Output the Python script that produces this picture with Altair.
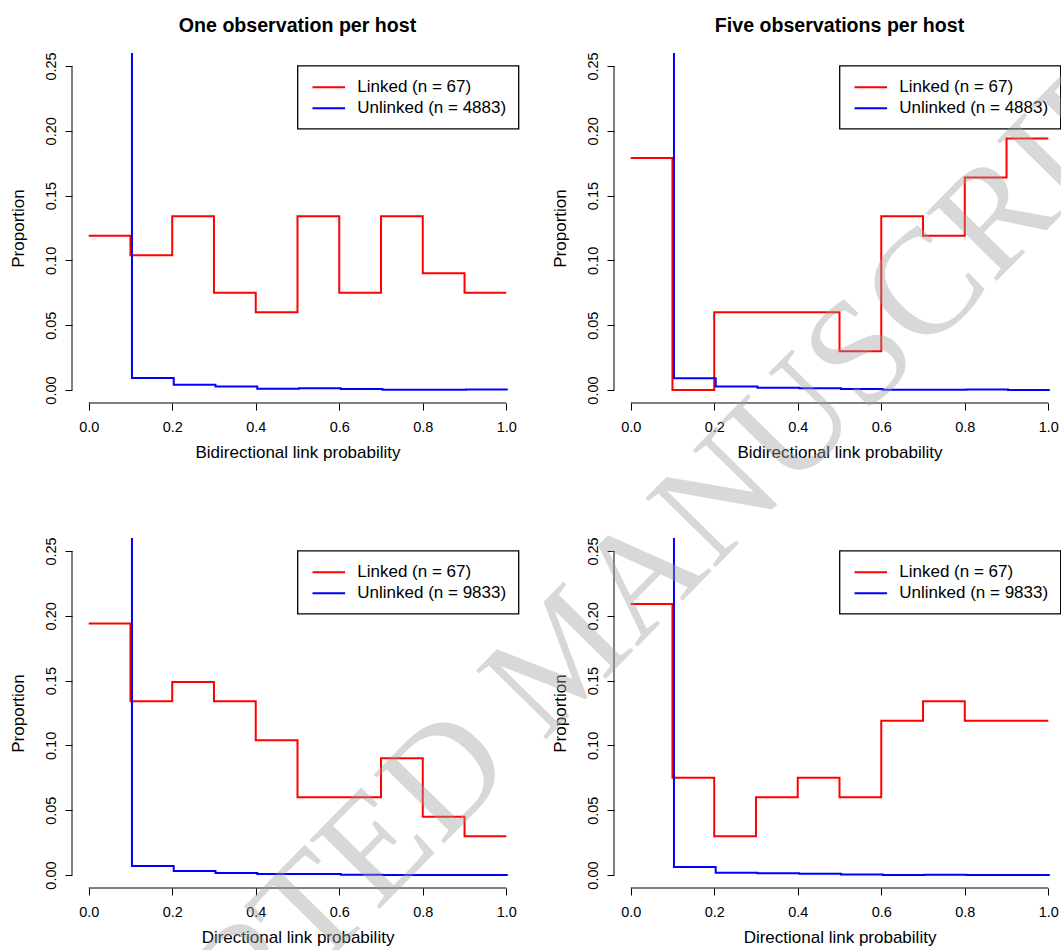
import altair as alt
import pandas as pd

# ---------------- data ----------------
edges = [0.0, 0.1, 0.2, 0.3, 0.4, 0.5, 0.6, 0.7, 0.8, 0.9, 1.0]

linked_one_bi = [0.119, 0.104, 0.134, 0.075, 0.060, 0.134, 0.075, 0.134, 0.090, 0.075]
unlinked_one_bi = [0.978, 0.0092, 0.0041, 0.0028, 0.0010, 0.0013, 0.0008, 0.0003, 0.0003, 0.0005]

linked_five_bi = [0.179, 0.000, 0.060, 0.060, 0.060, 0.030, 0.134, 0.119, 0.164, 0.194]
unlinked_five_bi = [0.983, 0.0090, 0.0028, 0.0018, 0.0013, 0.0008, 0.0003, 0.0003, 0.0005, 0.0001]

linked_one_dir = [0.194, 0.134, 0.149, 0.134, 0.104, 0.060, 0.060, 0.090, 0.045, 0.030]
unlinked_one_dir = [0.986, 0.0069, 0.0031, 0.0015, 0.0008, 0.0008, 0.0003, 0.0001, 0.0001, 0.0001]

linked_five_dir = [0.209, 0.075, 0.030, 0.060, 0.075, 0.060, 0.119, 0.134, 0.119, 0.119]
unlinked_five_dir = [0.989, 0.0062, 0.0018, 0.0013, 0.0010, 0.0005, 0.0001, 0.0003, 0.0001, 0.0001]

n_linked = 67
n_unlinked = [4883, 4883, 9833, 9833]

panel_titles = ["One observation per host", "Five observations per host", "", ""]
x_titles = ["Bidirectional link probability", "Bidirectional link probability",
            "Directional link probability", "Directional link probability"]
x_ticks = [0.0, 0.2, 0.4, 0.6, 0.8, 1.0]
y_ticks = [0.0, 0.05, 0.10, 0.15, 0.20, 0.25]
watermark = "ACCEPTED MANUSCRIPT"

# ---------------- styling ----------------
FONT = "Liberation Sans"
W, H = 451, 350
X_DOMAIN = [-0.04, 1.04]
Y_DOMAIN = [-0.01, 0.26]


def steps(vals, label):
    ys = list(vals) + [vals[-1]]
    return pd.DataFrame({"x": edges, "y": ys, "series": label})


def panel(linked, unlinked, n_unl, xtitle, title, extra=None):
    lab_l = f"Linked (n = {n_linked})"
    lab_u = f"Unlinked (n = {n_unl})"
    df = pd.concat([steps(linked, lab_l), steps(unlinked, lab_u)], ignore_index=True)

    xaxis = alt.Axis(
        values=x_ticks, format=".1f", domain=False, grid=False, ticks=True,
        tickSize=7, tickColor="black", tickWidth=1,
        labelAngle=0, labelAlign="center", labelBaseline="top", labelPadding=10,
        labelFont=FONT, labelFontSize=14.5, labelColor="black",
        labelOverlap=False, labelFlush=False,
        title=xtitle, titleFont=FONT, titleFontSize=17, titleFontWeight="normal",
        titleColor="black", titleAlign="center", titleBaseline="alphabetic",
        titleX=W / 2, titleY=54,
    )
    yaxis = alt.Axis(
        values=y_ticks, format=".2f", domain=False, grid=False, ticks=True,
        tickSize=7, tickColor="black", tickWidth=1,
        labelAngle=270, labelAlign="center", labelBaseline="bottom", labelPadding=7,
        labelFont=FONT, labelFontSize=14.5, labelColor="black",
        labelOverlap=False, labelFlush=False,
        title="Proportion", titleFont=FONT, titleFontSize=17, titleFontWeight="normal",
        titleColor="black", titleAngle=270, titleAlign="center", titleBaseline="alphabetic",
        titleX=-48.3, titleY=H / 2,
    )
    legend = alt.Legend(
        title=None, orient="none", legendX=225.5, legendY=12.7, direction="vertical",
        fillColor="white", strokeColor="black", padding=12,
        symbolType="M-1.918,0L1.918,0", symbolSize=289, symbolStrokeWidth=2,
        symbolOffset=9.8, labelOffset=19.0, rowPadding=3,
        labelFont=FONT, labelFontSize=17, labelColor="black", labelLimit=400,
    )
    xenc = alt.X("x:Q", scale=alt.Scale(domain=X_DOMAIN, nice=False, zero=False), axis=xaxis)
    yenc = alt.Y("y:Q", scale=alt.Scale(domain=Y_DOMAIN, nice=False, zero=False), axis=yaxis)
    color = alt.Color("series:N",
                      scale=alt.Scale(domain=[lab_l, lab_u], range=["#ff0000", "#0000ff"]),
                      legend=legend)

    base = alt.Chart(df)
    red = base.transform_filter(alt.datum.series == lab_l).mark_line(
        interpolate="step-after", strokeWidth=2, clip=True
    ).encode(x=xenc, y=yenc, color=color)
    blue = base.transform_filter(alt.datum.series == lab_u).mark_line(
        interpolate="step-after", strokeWidth=2, clip=True, xOffset=1.5
    ).encode(x="x:Q", y="y:Q", color="series:N")

    one = alt.Chart(pd.DataFrame({"k": [0]}))
    xline = one.mark_rule(color="black", strokeWidth=1).encode(
        x=alt.datum(x_ticks[0]), x2=alt.datum(x_ticks[-1]), y=alt.datum(Y_DOMAIN[0]))
    yline = one.mark_rule(color="black", strokeWidth=1).encode(
        x=alt.datum(X_DOMAIN[0]), y=alt.datum(y_ticks[0]), y2=alt.datum(y_ticks[-1]))

    layers = [red, blue, xline, yline]
    if extra is not None:
        layers.append(extra)
    props = dict(width=W, height=H)
    if title:
        props["title"] = alt.TitleParams(
            text=title, font=FONT, fontSize=19.6, fontWeight="bold", color="black",
            anchor="middle", frame="group", baseline="alphabetic", offset=0)
    return alt.layer(*layers).properties(**props)


wm = alt.Chart(pd.DataFrame({"t": [watermark]})).mark_text(
    font="Liberation Serif", fontSize=150, angle=314.5, align="center",
    baseline="middle", color="#a0a0a0", opacity=0.4
).encode(text="t:N", x=alt.value(-49), y=alt.value(118))

p1 = panel(linked_one_bi, unlinked_one_bi, n_unlinked[0], x_titles[0], panel_titles[0])
p2 = panel(linked_five_bi, unlinked_five_bi, n_unlinked[1], x_titles[1], panel_titles[1])
p3 = panel(linked_one_dir, unlinked_one_dir, n_unlinked[2], x_titles[2], panel_titles[2])
p4 = panel(linked_five_dir, unlinked_five_dir, n_unlinked[3], x_titles[3], panel_titles[3], extra=wm)

chart = alt.concat(
    p1, p2, p3, p4, columns=2, spacing={"row": 135, "column": 91}, bounds="flush"
).resolve_scale(
    color="independent", x="independent", y="independent"
).resolve_legend(
    color="independent"
).properties(
    autosize=alt.AutoSizeParams(type="none"),
    padding={"left": 72, "top": 53, "right": 989, "bottom": 897},
).configure_view(strokeWidth=0).configure_legend(strokeWidth=1.3)

chart.save("out.html", embed_options={"renderer": "svg", "actions": False})
